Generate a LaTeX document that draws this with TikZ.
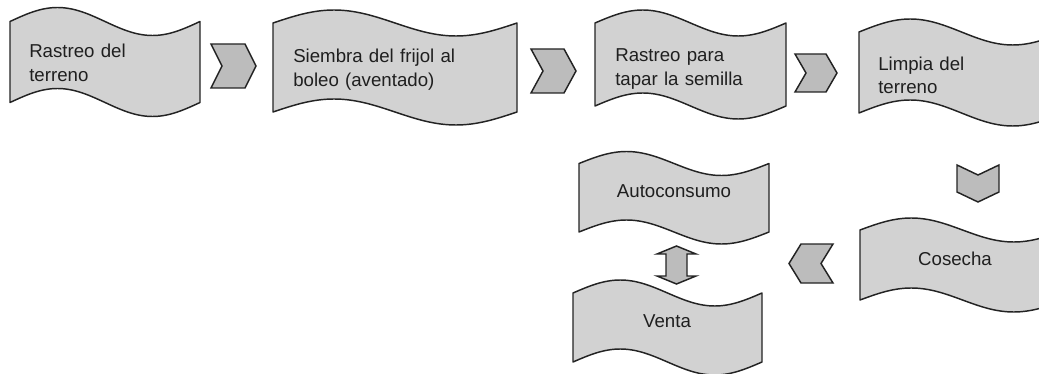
\documentclass[tikz,border=0pt]{standalone}
\usepackage{fontspec}
\setmainfont{Liberation Sans}
\definecolor{tapefill}{RGB}{210,210,210}
\definecolor{chevfill}{RGB}{188,188,188}
\definecolor{edgegray}{RGB}{35,35,35}
\newcommand{\wavebox}[5]{%
  \begin{scope}[shift={(#1,#2)}]
    \pgfmathsetmacro\wq{#3/4}
    \pgfmathsetmacro\wa{0.326*#3/4}
    \pgfmathsetmacro\wc{0.638*#3/4}
    \pgfmathsetmacro\wkb{0.512*#5}
    \draw[tape]
      (0,0) .. controls (\wa,-\wkb) and (\wc,-#5) .. (\wq,-#5)
      .. controls ({2*\wq-\wc},-#5) and ({2*\wq-\wa},-\wkb) .. ({2*\wq},0)
      .. controls ({2*\wq+\wa},\wkb) and ({2*\wq+\wc},#5) .. ({3*\wq},#5)
      .. controls ({4*\wq-\wc},#5) and ({4*\wq-\wa},\wkb) .. ({4*\wq},0)
      -- ({4*\wq},#4)
      .. controls ({4*\wq-\wa},{#4+\wkb}) and ({4*\wq-\wc},{#4+#5}) .. ({3*\wq},{#4+#5})
      .. controls ({2*\wq+\wc},{#4+#5}) and ({2*\wq+\wa},{#4+\wkb}) .. ({2*\wq},#4)
      .. controls ({2*\wq-\wa},{#4-\wkb}) and ({2*\wq-\wc},{#4-#5}) .. (\wq,{#4-#5})
      .. controls (\wc,{#4-#5}) and (\wa,{#4-\wkb}) .. (0,#4)
      -- cycle;
  \end{scope}%
}
\newcommand{\chevron}[6]{%
  \begin{scope}[shift={(#1,#2)},rotate=#6]
    \draw[chev]
      ({-#3/2},{-#4/2}) -- ({#3/2-#5},{-#4/2}) -- ({#3/2},0)
      -- ({#3/2-#5},{#4/2}) -- ({-#3/2},{#4/2}) -- ({-#3/2+#5},0) -- cycle;
  \end{scope}%
}

\begin{document}
\begin{tikzpicture}[x=0.75pt,y=-0.75pt,
  tape/.style={draw=edgegray,line width=1.1pt,fill=tapefill,line join=round},
  chev/.style={draw=edgegray,line width=1.1pt,fill=chevfill,line join=miter},
  lbl/.style={inner sep=0pt,text=black!88,font=\fontsize{14}{17.5}\selectfont},
  lbltop/.style={lbl,anchor=base west,text width=5cm,align=left}]
  \clip (0,0) rectangle (1039,374);

  \wavebox{10}{21.5}{190}{81}{14}
  \wavebox{273}{23}{244}{89}{13}
  \wavebox{595}{23}{191}{83}{13}
  \wavebox{859}{32}{205}{81}{13}
  \wavebox{860}{230}{205}{70}{12}
  \wavebox{579}{163.5}{190}{68.5}{12}
  \wavebox{573}{293}{189}{69}{13}

  \node[lbltop] (rastreo) at (29,58) {Rastreo del\\terreno};
  \node[lbltop] (siembra) at (293,63) {Siembra del frijol al\\boleo (aventado)};
  \node[lbltop] (tapar) at (615,62) {Rastreo para\\tapar la semilla};
  \node[lbltop] (limpia) at (878,70.5) {Limpia del\\terreno};
  \node[lbl,anchor=base] (cosecha) at (955,265) {Cosecha};
  \node[lbl,anchor=base] (autoconsumo) at (674,197.5) {Autoconsumo};
  \node[lbl,anchor=base] (venta) at (667,327) {Venta};

  \chevron{233.5}{66}{45}{44}{11}{0}
  \chevron{553.5}{71}{45}{44}{12}{0}
  \chevron{816}{73}{42}{38}{11}{0}
  \chevron{978}{183.5}{37}{42}{10}{-90}
  \chevron{811}{263.5}{44}{39}{12}{180}

  \draw[chev] (676.5,246) -- (696,254) -- (687,254) -- (687,276) -- (696,276)
    -- (676.5,284) -- (657,276) -- (666,276) -- (666,254) -- (657,254) -- cycle;
\end{tikzpicture}
\end{document}
